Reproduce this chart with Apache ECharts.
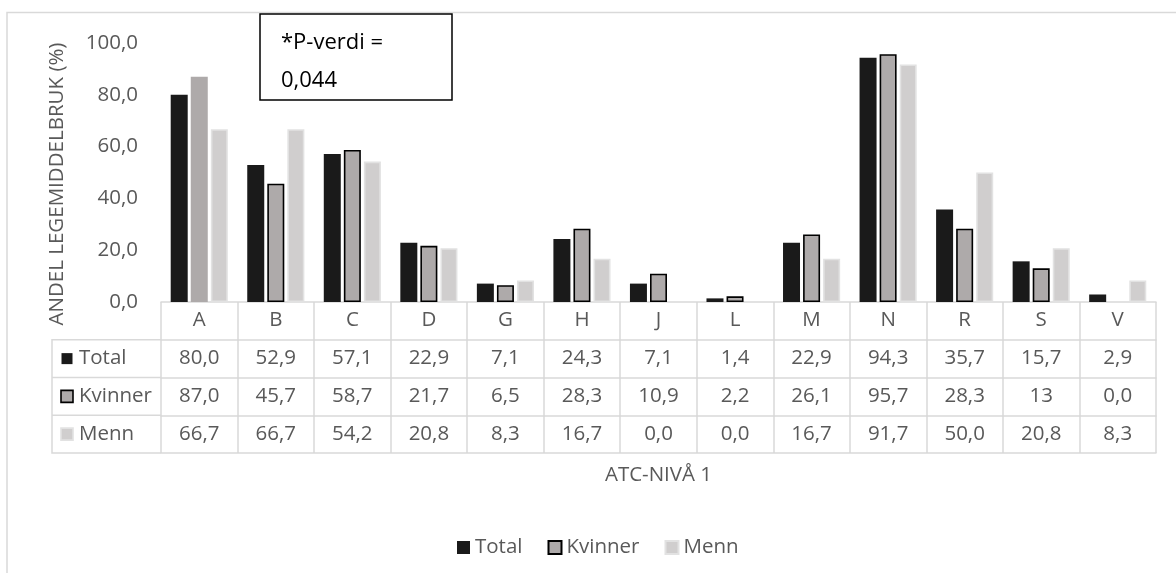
<!DOCTYPE html>
<html>
<head>
<meta charset="utf-8">
<script src="https://cdn.jsdelivr.net/npm/echarts@6/dist/echarts.min.js"></script>
<style>
  html, body { margin: 0; padding: 0; background: #ffffff; }
  #chart { width: 1176px; height: 573px; }
</style>
</head>
<body>
<div id="chart"></div>
<script>
// ATC level 1 groups and the share of medicine use (%) per group
const categories = ['A', 'B', 'C', 'D', 'G', 'H', 'J', 'L', 'M', 'N', 'R', 'S', 'V'];
const totalLabels = ['80,0', '52,9', '57,1', '22,9', '7,1', '24,3', '7,1', '1,4', '22,9', '94,3', '35,7', '15,7', '2,9'];
const kvinnerLabels = ['87,0', '45,7', '58,7', '21,7', '6,5', '28,3', '10,9', '2,2', '26,1', '95,7', '28,3', '13', '0,0'];
const mennLabels = ['66,7', '66,7', '54,2', '20,8', '8,3', '16,7', '0,0', '0,0', '16,7', '91,7', '50,0', '20,8', '8,3'];
const seriesNames = ['Total', 'Kvinner', 'Menn'];
const yTicks = [0, 20, 40, 60, 80, 100];
const yTitle = 'ANDEL LEGEMIDDELBRUK (%)';
const xTitle = 'ATC-NIVÅ 1';
const noteLines = ['*P-verdi =', '0,044'];

const toNum = s => parseFloat(s.replace(',', '.'));
const FONT = '"Open Sans", "Liberation Sans", sans-serif';
const GREY_TXT = '#595959';
const LINE = '#d9d9d9';
const FS = 20.5;

const GRID = { left: 161, right: 20, top: 43, bottom: 271 };
const ROW = 37.75;

const styles = {
  Total:   { color: '#1a1a1a', borderColor: '#1a1a1a', borderWidth: 0 },
  Kvinner: { color: '#aeaaaa', borderColor: '#000000', borderWidth: 1.6 },
  Menn:    { color: '#d0cece', borderColor: '#e2e2e2', borderWidth: 1.6 }
};
// the A bar for Kvinner is drawn without its outline
const unframed = { Kvinner: new Set(['A']) };

function barData(name, labels) {
  return labels.map((s, i) => {
    const v = toNum(s);
    const plain = v === 0 || (unframed[name] && unframed[name].has(categories[i]));
    return plain ? { value: v, itemStyle: { borderWidth: 0 } } : v;
  });
}

const rowAxis = (data, k, extra) => Object.assign({
  type: 'category',
  gridIndex: 0,
  position: 'bottom',
  offset: ROW * k,
  data: data,
  axisLine: { show: true, lineStyle: { color: LINE, width: 1.5 } },
  axisTick: { show: false },
  axisLabel: { interval: 0, margin: 8, fontSize: FS, color: GREY_TXT, fontFamily: FONT },
  splitLine: { show: false }
}, extra || {});

const chart = echarts.init(document.getElementById('chart'));

const rowLabels = [totalLabels, kvinnerLabels, mennLabels];

const option = {
  animation: false,
  textStyle: { fontFamily: FONT },
  grid: GRID,
  legend: {
    data: seriesNames,
    left: 452,
    top: 532,
    icon: 'rect',
    itemWidth: 13,
    itemHeight: 13,
    itemGap: 25,
    textStyle: { fontSize: FS, color: GREY_TXT, fontFamily: FONT }
  },
  xAxis: [
    rowAxis(categories, 0, {
      axisTick: { show: true, interval: 0, length: ROW * 4, lineStyle: { color: LINE, width: 1.5 } }
    }),
    rowAxis(totalLabels, 1),
    rowAxis(kvinnerLabels, 2),
    rowAxis(mennLabels, 3),
    rowAxis(categories, 4, {
      axisLabel: { show: false },
      name: xTitle,
      nameLocation: 'middle',
      nameGap: 12,
      nameTextStyle: { fontSize: FS, color: GREY_TXT, fontFamily: FONT }
    })
  ],
  yAxis: {
    type: 'value',
    min: yTicks[0],
    max: yTicks[yTicks.length - 1],
    interval: yTicks[1] - yTicks[0],
    axisLine: { show: false },
    axisTick: { show: false },
    splitLine: { show: false },
    axisLabel: {
      margin: 23,
      fontSize: FS,
      color: GREY_TXT,
      fontFamily: FONT,
      formatter: v => v.toFixed(1).replace('.', ',')
    }
  },
  series: seriesNames.map((name, k) => ({
    name: name,
    type: 'bar',
    xAxisIndex: 0,
    barWidth: 17,
    barGap: '18%',
    itemStyle: styles[name],
    data: barData(name, rowLabels[k])
  }))
};

chart.setOption(option);

// Frame, y title, the left column of the data table and the p-value note
const tableTop = chart.getHeight() - GRID.bottom;
const colLeft = 52;
const graphics = [
  {
    type: 'rect', z: -10, silent: true,
    shape: { x: 7, y: 12.5, width: 1200, height: 600 },
    style: { fill: null, stroke: LINE, lineWidth: 1.5 }
  },
  {
    type: 'text', silent: true,
    x: 57, y: 184, rotation: Math.PI / 2,
    style: { text: yTitle, fontSize: FS, fontFamily: FONT, fill: GREY_TXT, align: 'center', verticalAlign: 'middle' }
  },
  {
    type: 'polyline', silent: true,
    shape: { points: [[GRID.left, tableTop + ROW], [colLeft, tableTop + ROW], [colLeft, tableTop + 4 * ROW], [GRID.left, tableTop + 4 * ROW]] },
    style: { fill: null, stroke: LINE, lineWidth: 1.5 }
  }
];
[2, 3].forEach(k => graphics.push({
  type: 'line', silent: true,
  shape: { x1: colLeft, y1: tableTop + k * ROW, x2: GRID.left, y2: tableTop + k * ROW },
  style: { stroke: LINE, lineWidth: 1.5 }
}));
seriesNames.forEach((name, k) => {
  const cy = tableTop + (k + 1.5) * ROW;
  const st = styles[name];
  const size = name === 'Total' ? 11 : 12;
  graphics.push({
    type: 'rect', silent: true,
    shape: { x: 67 - size / 2, y: cy - size / 2, width: size, height: size },
    style: { fill: st.color, stroke: st.borderWidth ? st.borderColor : null, lineWidth: st.borderWidth }
  });
  graphics.push({
    type: 'text', silent: true,
    x: 79, y: cy,
    style: { text: name, fontSize: FS, fontFamily: FONT, fill: GREY_TXT, verticalAlign: 'middle', align: 'left' }
  });
});
graphics.push({
  type: 'rect', silent: true, z: 50,
  shape: { x: 260, y: 14, width: 192, height: 86 },
  style: { fill: '#ffffff', stroke: '#000000', lineWidth: 1.5 }
});
noteLines.forEach((t, i) => graphics.push({
  type: 'text', silent: true, z: 51,
  x: 281, y: 43 + i * 38,
  style: { text: t, fontSize: 22, fontFamily: FONT, fill: '#000000', verticalAlign: 'middle', align: 'left' }
}));

chart.setOption({ graphic: graphics });
</script>
</body>
</html>
